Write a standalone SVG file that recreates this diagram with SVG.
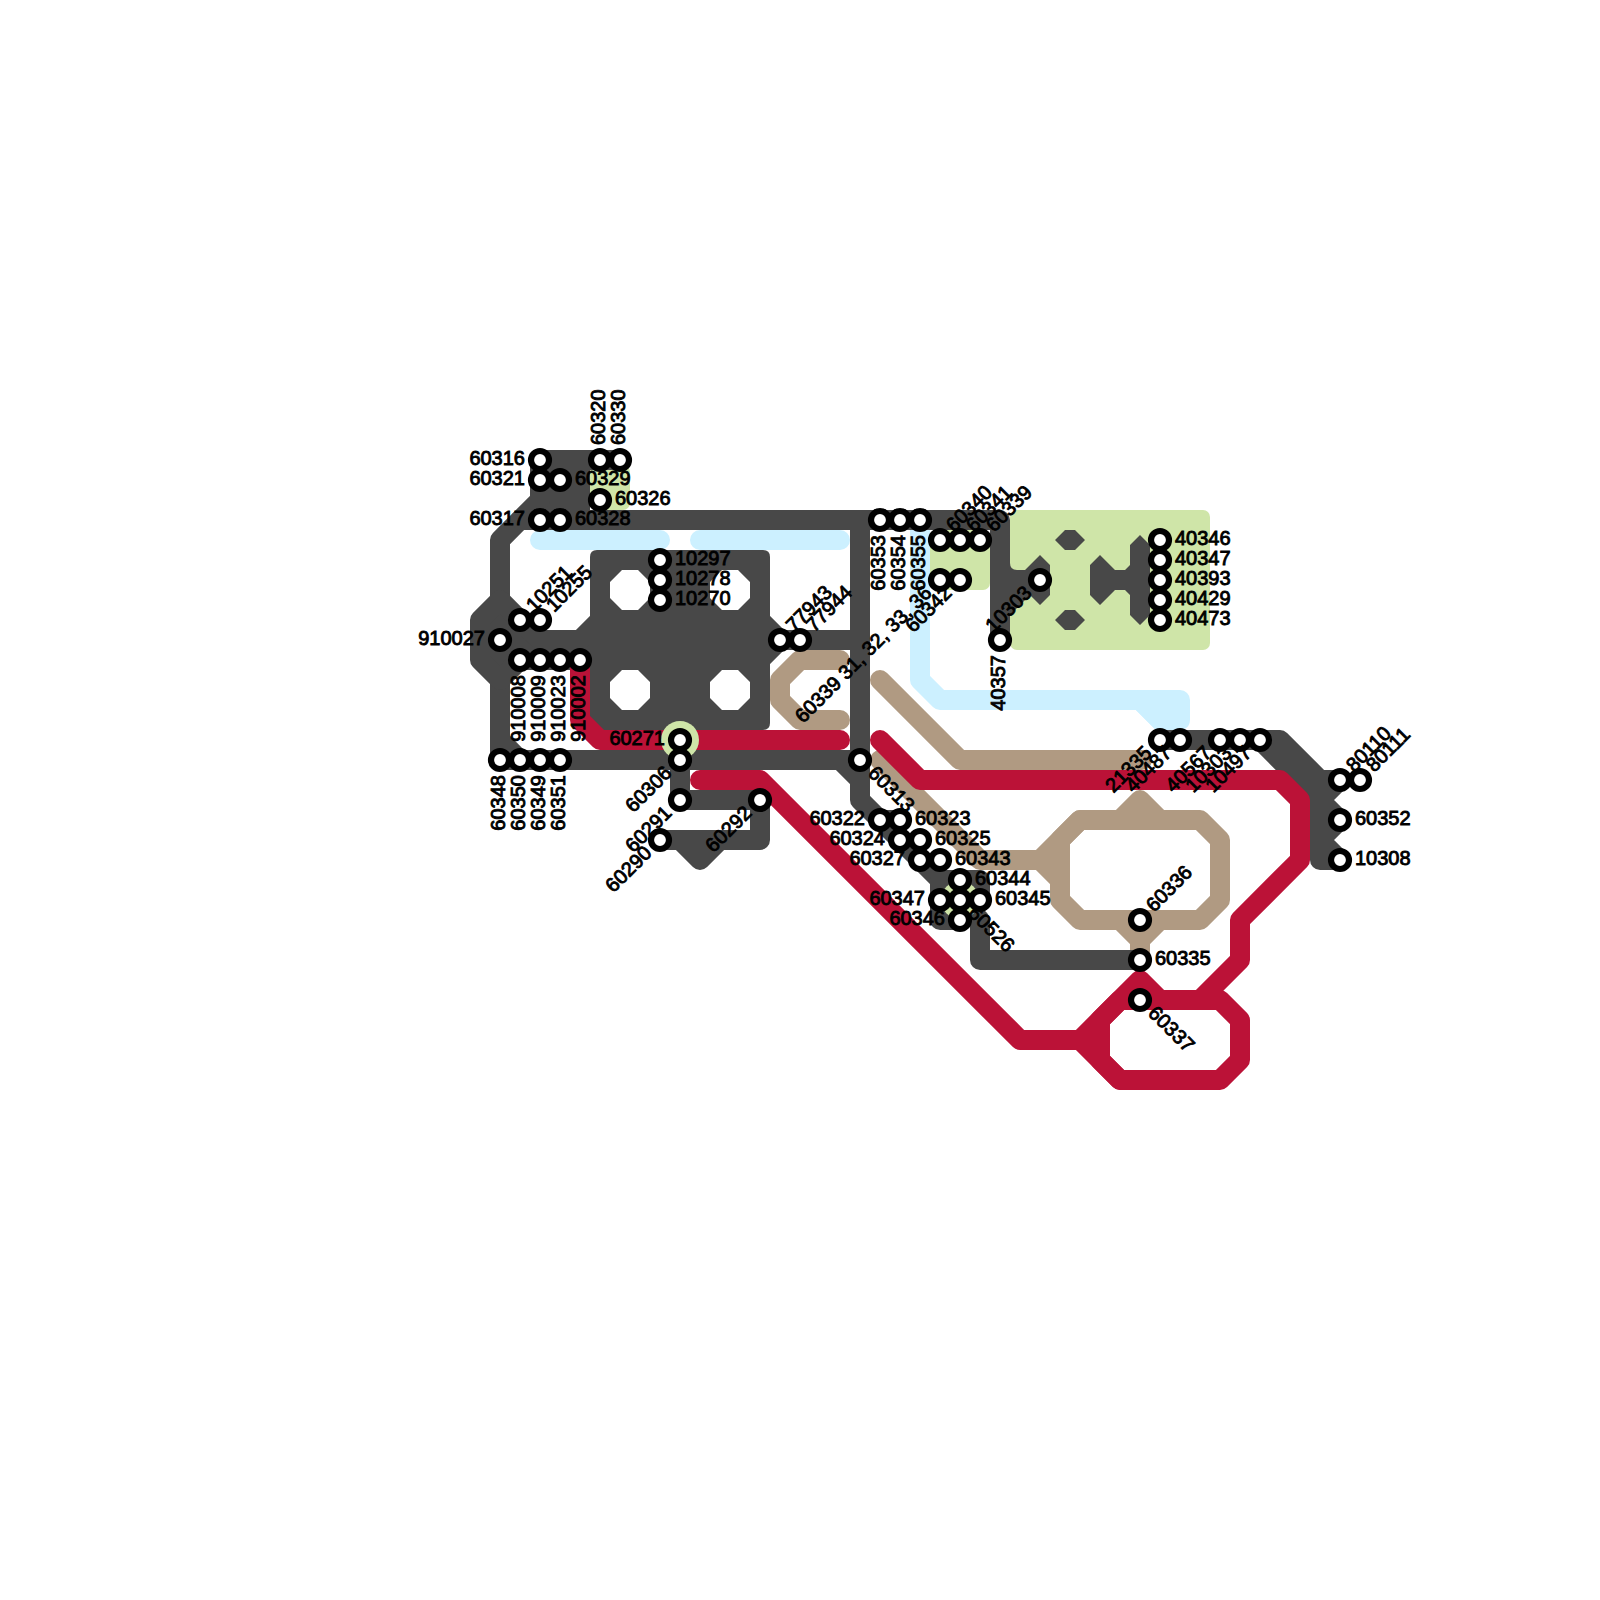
<svg xmlns="http://www.w3.org/2000/svg" width="1600" height="1600" viewBox="0 0 1600 1600">
<style>
.ln{fill:none;stroke-width:20;stroke-linecap:round;stroke-linejoin:round}
.fl{stroke-width:20;stroke-linecap:round;stroke-linejoin:round}
.grey{stroke:#484848}.grey.fl{fill:#484848}
.red{stroke:#bb1237}.red.fl{fill:#bb1237}
.tan{stroke:#b09a82}.tan.fl{fill:#b09a82}
.blue{stroke:#ccf0ff}.blue.fl{fill:#ccf0ff}
.gr{fill:#cfe5a8}
.d{fill:#fff;stroke:#000;stroke-width:6.2}
text{font-family:"Liberation Sans",Arial,sans-serif;font-size:20px;fill:#000;stroke:#000;stroke-width:.9}
.e{text-anchor:end}
</style>
<rect width="1600" height="1600" fill="#fff"/>
<g id="connectors">
<rect class="gr" x="590" y="465" width="40" height="45" rx="7"/>
<rect class="gr" x="930" y="530" width="60" height="60" rx="7"/>
<rect class="gr" x="1010" y="510" width="200" height="140" rx="7"/>
<path class="ln blue" d="M540 540H660M700 540H840M920 530V680L940 700H1140L1165 725"/>
<path class="fl blue" d="M1140 700H1180V720L1165 725Z"/>
<path class="ln tan" d="M840 660H800L780 680V700L800 720H840M880 680L960 760H1142M880 760L980 860H1060M1040 860L1080 820M1040 860L1060 880M1120 820L1140 800L1160 820M1120 920L1140 940L1160 920M1140 940V960"/>
<path class="ln tan" d="M1080 820H1200L1220 840V900L1200 920H1080L1060 900V840Z"/>
<path class="ln grey" d="M500 600V540L520 520H1000V640M860 520V800L980 920V960H1140M500 680V760H860M840 760L860 780M860 800L880 820H900M500 740L520 760M780 640H860M760 620L780 640L760 660M680 760V800H760V840H660M720 840L700 860L680 840M1160 740H1280L1320 780H1340L1320 800L1340 820L1320 840L1340 860H1320V780M1260 740L1320 800"/>
<path class="fl grey" d="M620 460H580V520H520L540 500V460H580"/>
<path class="fl grey" d="M500 600L480 620V660L500 680L520 660H600V620L580 640H540Z"/>
<path class="fl grey" d="M940 880H980V900L960 920H940Z"/>
<path fill="#484848" fill-rule="evenodd" d="M597 550H763Q770 550 770 557V723Q770 730 763 730H603L590 717V557Q590 550 597 550ZM622 570H638L650 582V598L638 610H622L610 598V582ZM722 570H738L750 582V598L738 610H722L710 598V582ZM622 670H638L650 682V698L638 710H622L610 698V682ZM722 670H738L750 682V698L738 710H722L710 698V682Z"/>
<path fill="#484848" d="M1000 520H1010V563Q1010 570 1017 570H1025L1040 555L1050 565V595L1040 605L1030 595L1010 615V640H1000ZM1055 540L1065 530H1075L1085 540L1075 550H1065ZM1055 620L1065 610H1075L1085 620L1075 630H1065ZM1090 565L1100 555L1115 570H1125L1130 565V545L1140 535L1150 545V615L1140 625L1130 615V595L1125 590H1115L1100 605L1090 595Z"/>
<path class="ln red" d="M580 660V720L600 740H840M880 740L920 780H1280L1300 800V860L1240 920V960L1200 1000H1160L1140 980L1080 1040H1020L760 780H700M1080 1040L1120 1080M1080 1040H1100"/>
<path class="ln red" d="M1120 1000H1220L1240 1020V1060L1220 1080H1120L1100 1060V1020Z"/>
<circle class="gr" cx="680" cy="740" r="19"/>
<circle class="gr" cx="960" cy="900" r="19"/>
</g>
<g id="n60316"><circle class="d" cx="540" cy="460" r="9"/><text class="e" x="525" y="465">60316</text></g>
<g id="n60321"><circle class="d" cx="540" cy="480" r="9"/><text class="e" x="525" y="485">60321</text></g>
<g id="n60317"><circle class="d" cx="540" cy="520" r="9"/><text class="e" x="525" y="525">60317</text></g>
<g id="n910027"><circle class="d" cx="500" cy="640" r="9"/><text class="e" x="485" y="645">910027</text></g>
<g id="n60271"><circle class="d" cx="680" cy="740" r="9"/><text class="e" x="665" y="745">60271</text></g>
<g id="n60322"><circle class="d" cx="880" cy="820" r="9"/><text class="e" x="865" y="825">60322</text></g>
<g id="n60324"><circle class="d" cx="900" cy="840" r="9"/><text class="e" x="885" y="845">60324</text></g>
<g id="n60327"><circle class="d" cx="920" cy="860" r="9"/><text class="e" x="905" y="865">60327</text></g>
<g id="n60347"><circle class="d" cx="940" cy="900" r="9"/><text class="e" x="925" y="905">60347</text></g>
<g id="n60346"><circle class="d" cx="960" cy="920" r="9"/><text class="e" x="945" y="925">60346</text></g>
<g id="n60329"><circle class="d" cx="560" cy="480" r="9"/><text x="575" y="485">60329</text></g>
<g id="n60328"><circle class="d" cx="560" cy="520" r="9"/><text x="575" y="525">60328</text></g>
<g id="n60326"><circle class="d" cx="600" cy="500" r="9"/><text x="615" y="505">60326</text></g>
<g id="n10297"><circle class="d" cx="660" cy="560" r="9"/><text x="675" y="565">10297</text></g>
<g id="n10278"><circle class="d" cx="660" cy="580" r="9"/><text x="675" y="585">10278</text></g>
<g id="n10270"><circle class="d" cx="660" cy="600" r="9"/><text x="675" y="605">10270</text></g>
<g id="n60323"><circle class="d" cx="900" cy="820" r="9"/><text x="915" y="825">60323</text></g>
<g id="n60325"><circle class="d" cx="920" cy="840" r="9"/><text x="935" y="845">60325</text></g>
<g id="n60343"><circle class="d" cx="940" cy="860" r="9"/><text x="955" y="865">60343</text></g>
<g id="n60344"><circle class="d" cx="960" cy="880" r="9"/><text x="975" y="885">60344</text></g>
<g id="n60345"><circle class="d" cx="980" cy="900" r="9"/><text x="995" y="905">60345</text></g>
<g id="n40346"><circle class="d" cx="1160" cy="540" r="9"/><text x="1175" y="545">40346</text></g>
<g id="n40347"><circle class="d" cx="1160" cy="560" r="9"/><text x="1175" y="565">40347</text></g>
<g id="n40393"><circle class="d" cx="1160" cy="580" r="9"/><text x="1175" y="585">40393</text></g>
<g id="n40429"><circle class="d" cx="1160" cy="600" r="9"/><text x="1175" y="605">40429</text></g>
<g id="n40473"><circle class="d" cx="1160" cy="620" r="9"/><text x="1175" y="625">40473</text></g>
<g id="n60352"><circle class="d" cx="1340" cy="820" r="9"/><text x="1355" y="825">60352</text></g>
<g id="n10308"><circle class="d" cx="1340" cy="860" r="9"/><text x="1355" y="865">10308</text></g>
<g id="n60335"><circle class="d" cx="1140" cy="960" r="9"/><text x="1155" y="965">60335</text></g>
<g id="n60320"><circle class="d" cx="600" cy="460" r="9"/><text transform="translate(600 460) rotate(-90)" x="15" y="5">60320</text></g>
<g id="n60330"><circle class="d" cx="620" cy="460" r="9"/><text transform="translate(620 460) rotate(-90)" x="15" y="5">60330</text></g>
<g id="n910008"><circle class="d" cx="520" cy="660" r="9"/><text class="e" transform="translate(520 660) rotate(-90)" x="-15" y="5">910008</text></g>
<g id="n910009"><circle class="d" cx="540" cy="660" r="9"/><text class="e" transform="translate(540 660) rotate(-90)" x="-15" y="5">910009</text></g>
<g id="n910023"><circle class="d" cx="560" cy="660" r="9"/><text class="e" transform="translate(560 660) rotate(-90)" x="-15" y="5">910023</text></g>
<g id="n910002"><circle class="d" cx="580" cy="660" r="9"/><text class="e" transform="translate(580 660) rotate(-90)" x="-15" y="5">910002</text></g>
<g id="n60348"><circle class="d" cx="500" cy="760" r="9"/><text class="e" transform="translate(500 760) rotate(-90)" x="-15" y="5">60348</text></g>
<g id="n60350"><circle class="d" cx="520" cy="760" r="9"/><text class="e" transform="translate(520 760) rotate(-90)" x="-15" y="5">60350</text></g>
<g id="n60349"><circle class="d" cx="540" cy="760" r="9"/><text class="e" transform="translate(540 760) rotate(-90)" x="-15" y="5">60349</text></g>
<g id="n60351"><circle class="d" cx="560" cy="760" r="9"/><text class="e" transform="translate(560 760) rotate(-90)" x="-15" y="5">60351</text></g>
<g id="n60353"><circle class="d" cx="880" cy="520" r="9"/><text class="e" transform="translate(880 520) rotate(-90)" x="-15" y="5">60353</text></g>
<g id="n60354"><circle class="d" cx="900" cy="520" r="9"/><text class="e" transform="translate(900 520) rotate(-90)" x="-15" y="5">60354</text></g>
<g id="n60355"><circle class="d" cx="920" cy="520" r="9"/><text class="e" transform="translate(920 520) rotate(-90)" x="-15" y="5">60355</text></g>
<g id="n40357"><circle class="d" cx="1000" cy="640" r="9"/><text class="e" transform="translate(1000 640) rotate(-90)" x="-15" y="5">40357</text></g>
<g id="n10251"><circle class="d" cx="520" cy="620" r="9"/><text transform="translate(520 620) rotate(-45)" x="15" y="5">10251</text></g>
<g id="n10255"><circle class="d" cx="540" cy="620" r="9"/><text transform="translate(540 620) rotate(-45)" x="15" y="5">10255</text></g>
<g id="n77943"><circle class="d" cx="780" cy="640" r="9"/><text transform="translate(780 640) rotate(-45)" x="15" y="5">77943</text></g>
<g id="n77944"><circle class="d" cx="800" cy="640" r="9"/><text transform="translate(800 640) rotate(-45)" x="15" y="5">77944</text></g>
<g id="n60340"><circle class="d" cx="940" cy="540" r="9"/><text transform="translate(940 540) rotate(-45)" x="15" y="5">60340</text></g>
<g id="n60341"><circle class="d" cx="960" cy="540" r="9"/><text transform="translate(960 540) rotate(-45)" x="15" y="5">60341</text></g>
<g id="n60339"><circle class="d" cx="980" cy="540" r="9"/><text transform="translate(980 540) rotate(-45)" x="15" y="5">60339</text></g>
<g id="n60336"><circle class="d" cx="1140" cy="920" r="9"/><text transform="translate(1140 920) rotate(-45)" x="15" y="5">60336</text></g>
<g id="n80110"><circle class="d" cx="1340" cy="780" r="9"/><text transform="translate(1340 780) rotate(-45)" x="15" y="5">80110</text></g>
<g id="n80111"><circle class="d" cx="1360" cy="780" r="9"/><text transform="translate(1360 780) rotate(-45)" x="15" y="5">80111</text></g>
<g id="n60306"><circle class="d" cx="680" cy="760" r="9"/><text class="e" transform="translate(680 760) rotate(-45)" x="-15" y="5">60306</text></g>
<g id="n60291"><circle class="d" cx="680" cy="800" r="9"/><text class="e" transform="translate(680 800) rotate(-45)" x="-15" y="5">60291</text></g>
<g id="n60290"><circle class="d" cx="660" cy="840" r="9"/><text class="e" transform="translate(660 840) rotate(-45)" x="-15" y="5">60290</text></g>
<g id="n60292"><circle class="d" cx="760" cy="800" r="9"/><text class="e" transform="translate(760 800) rotate(-45)" x="-15" y="5">60292</text></g>
<g id="n60338"><circle class="d" cx="940" cy="580" r="9"/><text class="e" transform="translate(940 580) rotate(-45)" x="-15" y="5">60339 31, 32, 33, 36</text></g>
<g id="n60342"><circle class="d" cx="960" cy="580" r="9"/><text class="e" transform="translate(960 580) rotate(-45)" x="-15" y="5">60342</text></g>
<g id="n10303a"><circle class="d" cx="1040" cy="580" r="9"/><text class="e" transform="translate(1040 580) rotate(-45)" x="-15" y="5">10303</text></g>
<g id="n21335"><circle class="d" cx="1160" cy="740" r="9"/><text class="e" transform="translate(1160 740) rotate(-45)" x="-15" y="5">21335</text></g>
<g id="n40487"><circle class="d" cx="1180" cy="740" r="9"/><text class="e" transform="translate(1180 740) rotate(-45)" x="-15" y="5">40487</text></g>
<g id="n40567"><circle class="d" cx="1220" cy="740" r="9"/><text class="e" transform="translate(1220 740) rotate(-45)" x="-15" y="5">40567</text></g>
<g id="n10303b"><circle class="d" cx="1240" cy="740" r="9"/><text class="e" transform="translate(1240 740) rotate(-45)" x="-15" y="5">10303</text></g>
<g id="n10497"><circle class="d" cx="1260" cy="740" r="9"/><text class="e" transform="translate(1260 740) rotate(-45)" x="-15" y="5">10497</text></g>
<g id="n60313"><circle class="d" cx="860" cy="760" r="9"/><text transform="translate(860 760) rotate(45)" x="15" y="5">60313</text></g>
<g id="n60526"><circle class="d" cx="960" cy="900" r="9"/><text transform="translate(960 900) rotate(45)" x="15" y="5">60526</text></g>
<g id="n60337"><circle class="d" cx="1140" cy="1000" r="9"/><text transform="translate(1140 1000) rotate(45)" x="15" y="5">60337</text></g>
</svg>
